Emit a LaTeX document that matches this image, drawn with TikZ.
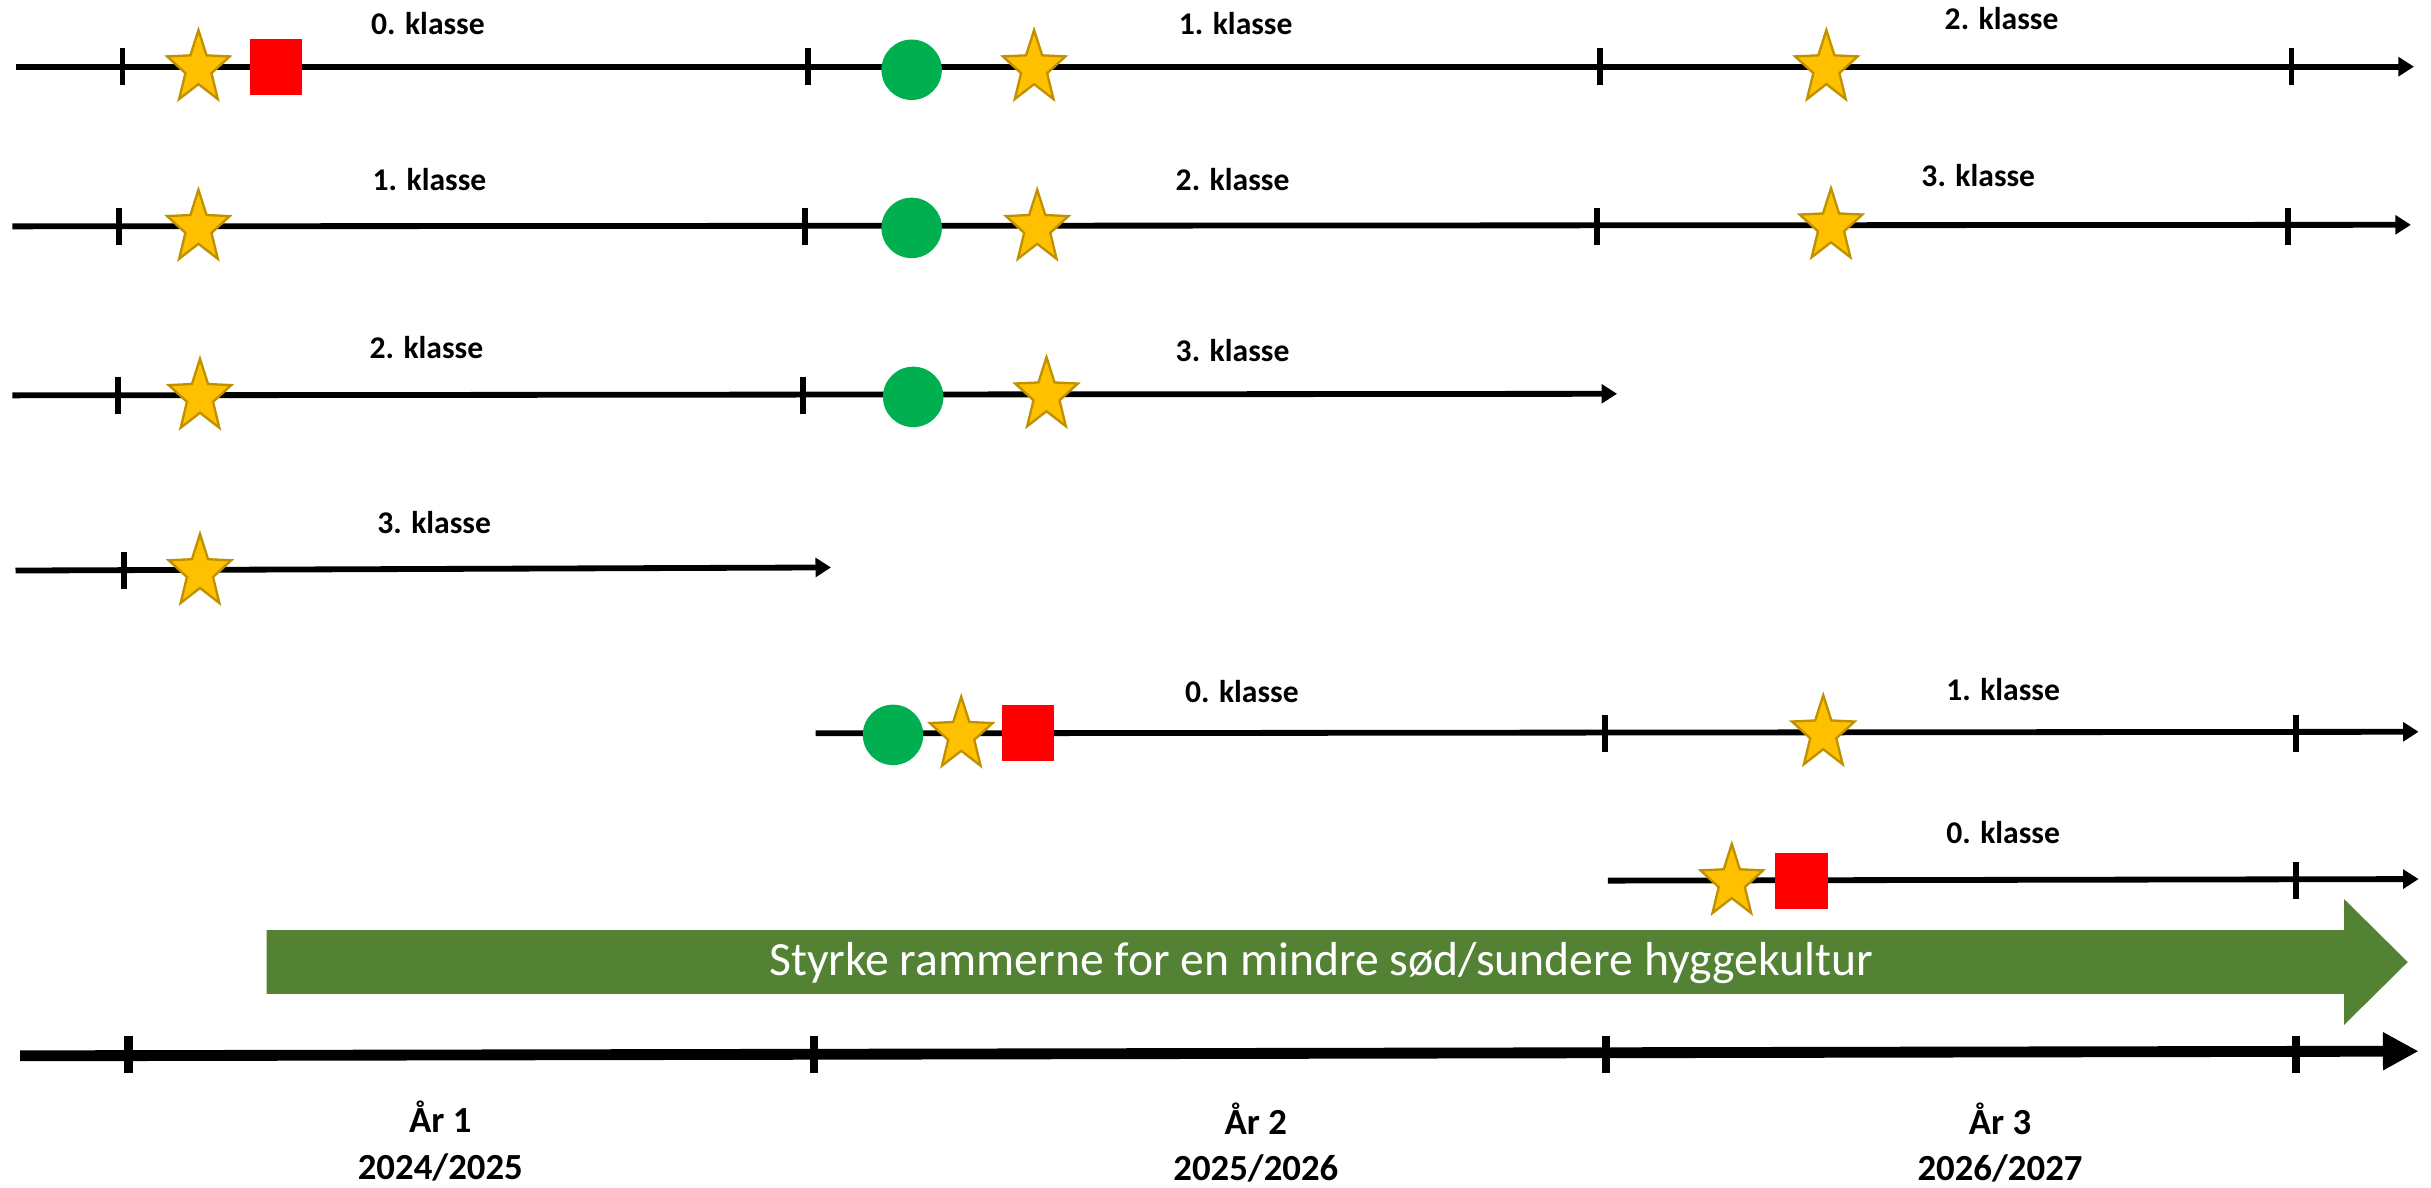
\documentclass[tikz,border=0pt]{standalone}
\usepackage{fontspec}
\setmainfont{Carlito}
\usetikzlibrary{arrows.meta, shapes.geometric}
\definecolor{stargold}{HTML}{FFC000}
\definecolor{staredge}{HTML}{BF9000}
\definecolor{dotgreen}{HTML}{00B050}
\definecolor{bandgreen}{HTML}{548235}

\begin{document}
\begin{tikzpicture}[x=0.2mm,y=-0.2mm,
  row/.style={line width=0.75mm,-{Triangle[length=2mm,width=2.4mm]}},
  tick/.style={line width=0.75mm},
  goldstar/.style={star,star points=5,star point ratio=2.4,minimum size=0.85cm,inner sep=0pt,
    yscale=1.16,transform shape,fill=stargold,draw=staredge,line width=0.3mm},
  redbox/.style={rectangle,minimum width=0.68cm,minimum height=0.72cm,inner sep=0pt,fill=red},
  greendot/.style={circle,minimum size=0.78cm,inner sep=0pt,fill=dotgreen},
  klasse/.style={font=\bfseries\fontsize{11.6}{13}\selectfont},
  year/.style={font=\bfseries\fontsize{13.5}{17}\selectfont,align=center}]
\useasboundingbox (0,0) rectangle (1568,766);

% the six class lines
\coordinate (r1s) at (10,43);   \coordinate (r1e) at (1557,43);
\coordinate (r2s) at (8,146);   \coordinate (r2e) at (1555,145);
\coordinate (r3s) at (8,255);   \coordinate (r3e) at (1043,254);
\coordinate (r4s) at (10,368);  \coordinate (r4e) at (536,366);
\coordinate (r5s) at (526,473); \coordinate (r5e) at (1560,472);
\coordinate (r6s) at (1037,568);\coordinate (r6e) at (1560,567);
\foreach \r in {1,...,6}
\draw[row] (r\r s) -- (r\r e);

\foreach \x in {79,521,1032,1478}
\draw[tick] (\x,31) -- (\x,55);
\foreach \x in {77,519,1030,1476}
\draw[tick] (\x,134) -- (\x,158);
\foreach \x in {76,518}
\draw[tick] (\x,243) -- (\x,267);
\draw[tick] (80,356) -- (80,380);
\foreach \x in {1035,1481}
\draw[tick] (\x,461) -- (\x,485);
\draw[tick] (1481,556) -- (1481,580);

% markers
\node[goldstar] (s11) at (128,44) {};
\node[redbox]   (b1)  at (178,43) {};
\node[greendot] (d1)  at (588,45) {};
\node[goldstar] (s12) at (667,44) {};
\node[goldstar] (s13) at (1178,44) {};

\node[goldstar] (s21) at (128,147) {};
\node[greendot] (d2)  at (588,147) {};
\node[goldstar] (s22) at (669,147) {};
\node[goldstar] (s23) at (1181,146) {};

\node[goldstar] (s31) at (129,256) {};
\node[greendot] (d3)  at (589,256) {};
\node[goldstar] (s32) at (675,255) {};

\node[goldstar] (s41) at (129,369) {};

\node[greendot] (d5)  at (576,474) {};
\node[goldstar] (s51) at (620,474) {};
\node[redbox]   (b5)  at (663,473) {};
\node[goldstar] (s52) at (1176,473) {};

\node[goldstar] (s61) at (1117,569) {};
\node[redbox]   (b6)  at (1162,568) {};

% class labels
\node[klasse] (k11) at (276,15) {0. klasse};
\node[klasse] (k12) at (797,15) {1. klasse};
\node[klasse] (k13) at (1291,12) {2. klasse};
\node[klasse] (k21) at (277,116) {1. klasse};
\node[klasse] (k22) at (795,116) {2. klasse};
\node[klasse] (k23) at (1276,113) {3. klasse};
\node[klasse] (k31) at (275,224) {2. klasse};
\node[klasse] (k32) at (795,226) {3. klasse};
\node[klasse] (k41) at (280,337) {3. klasse};
\node[klasse] (k51) at (801,446) {0. klasse};
\node[klasse] (k52) at (1292,445) {1. klasse};
\node[klasse] (k61) at (1292,537) {0. klasse};

% green band
\fill[bandgreen] (172,600) -- (1512,600) -- (1512,580) -- (1553,620.5)
  -- (1512,661) -- (1512,641) -- (172,641) -- cycle;
\node[text=white,font=\fontsize{17.5}{20}\selectfont] (band) at (852,621)
  {Styrke rammerne for en mindre sød/sundere hyggekultur};

% year axis
\coordinate (ax0) at (13,681);
\coordinate (ax1) at (1560,678);
\draw[line width=1.4mm,-{Triangle[length=4.6mm,width=4.6mm]}] (ax0) -- (ax1);
\foreach \x in {83,525,1036,1481}
\draw[line width=1.1mm] (\x,668) -- (\x,692);

\node[year] (y1) at (284,736) {År 1\\2024/2025};
\node[year] (y2) at (810,737) {År 2\\2025/2026};
\node[year] (y3) at (1290,737) {År 3\\2026/2027};
\end{tikzpicture}
\end{document}
